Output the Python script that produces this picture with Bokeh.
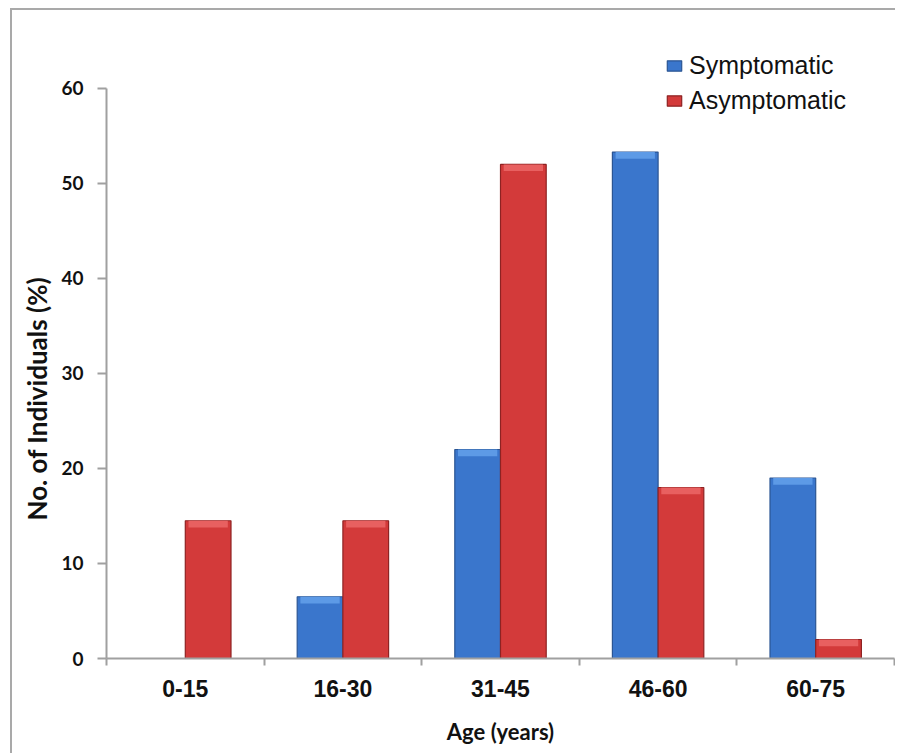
import numpy as np
from bokeh.plotting import figure
from bokeh.models import (ColumnDataSource, Range1d, FixedTicker, Legend, LegendItem, Title)
from bokeh.transform import dodge
from bokeh.embed import file_html
from bokeh.resources import INLINE

# ---- data ----
categories = ["0-15", "16-30", "31-45", "46-60", "60-75"]
symptomatic = [0, 6.5, 22, 53.3, 19]
asymptomatic = [14.5, 14.5, 52, 18, 2]
y_ticks = [0, 10, 20, 30, 40, 50, 60]
series_names = ["Symptomatic", "Asymptomatic"]

idx = np.arange(len(categories))
sym = np.array(symptomatic, dtype=float)
asym = np.array(asymptomatic, dtype=float)
cap = 0.7  # bevel depth in data units
src = ColumnDataSource(dict(
    center=idx + 0.5,
    sym=sym,
    asym=asym,
    sym_cap=np.where(sym > 0, np.maximum(sym - cap, 0), sym),
    asym_cap=np.where(asym > 0, np.maximum(asym - cap, 0), asym),
))

p = figure(
    width=885, height=745,
    x_range=Range1d(0, len(categories)), y_range=Range1d(0, 66.1),
    output_backend="svg", toolbar_location=None,
    min_border_left=94, min_border_top=20, min_border_right=3, min_border_bottom=97,
    margin=(8, 0, 0, 10),
)
p.styles = {"border-top": "2px solid #a9a9a9", "border-left": "2px solid #a9a9a9",
            "border-right": "none", "border-bottom": "none"}
p.outline_line_color = None
p.xgrid.visible = False
p.ygrid.visible = False
p.background_fill_color = "white"
p.border_fill_color = "white"

bw = 0.29
off = 0.145
r1 = p.vbar(x=dodge("center", -off), top="sym", width=bw, source=src,
            fill_color="#3a76cc", line_color="#2b5593", line_width=1.2)
r2 = p.vbar(x=dodge("center", off), top="asym", width=bw, source=src,
            fill_color="#d33a3a", line_color="#8e2222", line_width=1.2)
# bevel highlight on the bar tops
p.vbar(x=dodge("center", -off), top="sym", bottom="sym_cap", width=bw * 0.86, source=src,
       fill_color="#5d9ae6", line_color=None)
p.vbar(x=dodge("center", off), top="asym", bottom="asym_cap", width=bw * 0.86, source=src,
       fill_color="#e86060", line_color=None)

axis_col = "#a0a0a0"
# x axis
xa = p.xaxis[0]
xa.ticker = FixedTicker(ticks=list(idx + 0.5), minor_ticks=list(range(len(categories) + 1)))
xa.major_label_overrides = {float(i + 0.5): c for i, c in enumerate(categories)}
xa.major_tick_out = 0
xa.major_tick_in = 0
xa.minor_tick_out = 7
xa.minor_tick_in = 0
xa.minor_tick_line_color = axis_col
xa.minor_tick_line_width = 2
xa.axis_line_color = axis_col
xa.axis_line_width = 2
xa.major_label_text_font = "Liberation Sans"
xa.major_label_text_font_style = "bold"
xa.major_label_text_font_size = "23px"
xa.major_label_text_color = "#111111"
xa.major_label_standoff = 14
xa.axis_label = "Age (years)"
xa.axis_label_text_font = "Lato"
xa.axis_label_text_font_style = "bold"
xa.axis_label_text_font_size = "22px"
xa.axis_label_text_color = "#111111"
xa.axis_label_standoff = 18

# y axis
ya = p.yaxis[0]
ya.ticker = FixedTicker(ticks=y_ticks)
ya.bounds = (0, 60)
ya.major_tick_out = 9
ya.major_tick_in = 0
ya.minor_tick_out = 0
ya.minor_tick_in = 0
ya.major_tick_line_color = axis_col
ya.major_tick_line_width = 2
ya.axis_line_color = axis_col
ya.axis_line_width = 2
ya.major_label_text_font = "Lato"
ya.major_label_text_font_style = "bold"
ya.major_label_text_font_size = "19px"
ya.major_label_text_color = "#111111"
ya.major_label_standoff = 14

ytitle = Title(text="No. of Individuals (%)", align="left", offset=138,
               text_font="Lato", text_font_style="bold", text_font_size="26px",
               text_color="#111111", standoff=12)
p.add_layout(ytitle, "left")

legend = Legend(
    items=[LegendItem(label=series_names[0], renderers=[r1]),
           LegendItem(label=series_names[1], renderers=[r2])],
    location=(559, 540),
    glyph_width=18, glyph_height=13, label_standoff=6,
    label_text_font="Liberation Sans", label_text_font_size="25px",
    label_text_color="#111111", label_height=35, spacing=0,
    padding=0, margin=0, border_line_color=None, background_fill_alpha=0,
)
p.add_layout(legend)

open("out.html", "w").write(file_html(p, INLINE))
